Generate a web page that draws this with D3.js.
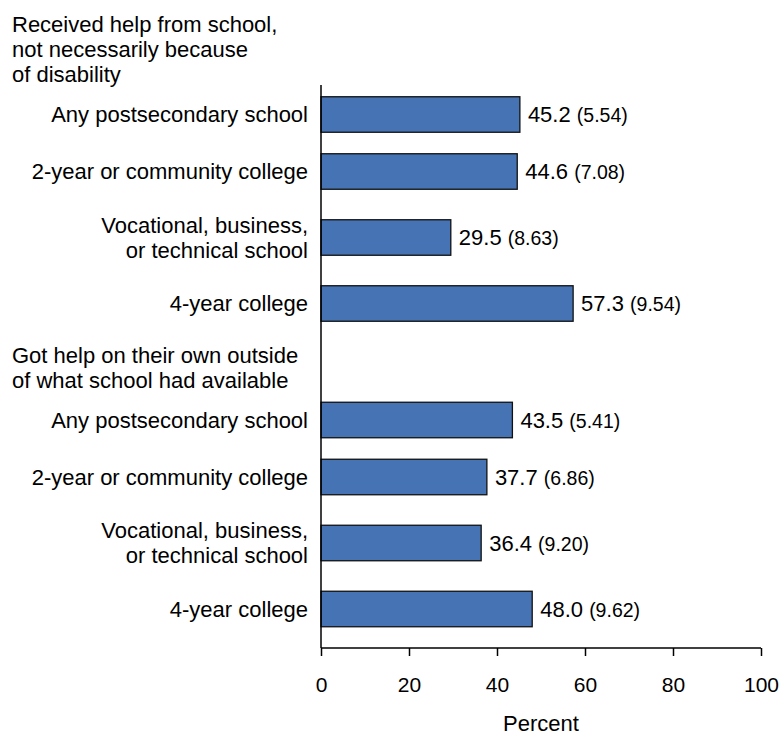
<!DOCTYPE html>
<html>
<head>
<meta charset="utf-8">
<script src="https://cdn.jsdelivr.net/npm/d3@7"></script>
<style>
  html, body { margin: 0; padding: 0; background: #fff; }
  svg text { font-family: "Liberation Sans", Arial, sans-serif; fill: #000; }
</style>
</head>
<body>
<svg id="chart" width="781" height="740"></svg>
<script>
// ---- data ----
const groupTitles = [
  "Received help from school,\nnot necessarily because\nof disability",
  "Got help on their own outside\nof what school had available"
];
const categories = [
  "Any postsecondary school",
  "2-year or community college",
  "Vocational, business,\nor technical school",
  "4-year college"
];
const schoolHelpValues = [45.2, 44.6, 29.5, 57.3];
const schoolHelpSE = ["5.54", "7.08", "8.63", "9.54"];
const ownHelpValues = [43.5, 37.7, 36.4, 48.0];
const ownHelpSE = ["5.41", "6.86", "9.20", "9.62"];
const xTicks = [0, 20, 40, 60, 80, 100];
const xLabel = "Percent";

// ---- layout ----
const svg = d3.select("#chart");
const left = 321, right = 761, axisY = 648, axisTop = 85;
const lineH = 25, rowSingle = 57, rowExtra = 18, barH = 35.5;
const labelFont = 22, seFont = 19.5, tickFont = 21;

const x = d3.scaleLinear().domain([0, 100]).range([left, right]);

const series = [
  { title: groupTitles[0], values: schoolHelpValues, se: schoolHelpSE },
  { title: groupTitles[1], values: ownHelpValues, se: ownHelpSE }
];

// compute row positions
const headers = [];
const rows = [];
let cursor = 32; // first header baseline
series.forEach((g, gi) => {
  const tl = g.title.split("\n");
  headers.push({ lines: tl, y: cursor });
  cursor += (tl.length - 1) * lineH + 32.5;
  let prevH = null;
  categories.forEach((c, ci) => {
    const nl = c.split("\n").length;
    const h = rowSingle + (nl - 1) * rowExtra;
    if (prevH !== null) cursor += (prevH + h) / 2;
    rows.push({ id: gi + "-" + ci, label: c.split("\n"), value: g.values[ci], se: g.se[ci], center: cursor });
    prevH = h;
  });
  cursor += 59;
});

const y = d3.scaleOrdinal().domain(rows.map(r => r.id)).range(rows.map(r => r.center));

// headers
headers.forEach(h => {
  const t = svg.append("text").attr("x", 12).attr("y", h.y).style("font-size", labelFont + "px");
  h.lines.forEach((l, i) => t.append("tspan").attr("x", 12).attr("dy", i === 0 ? 0 : lineH).text(l));
});

// category labels
rows.forEach(r => {
  const n = r.label.length;
  const t = svg.append("text")
    .attr("text-anchor", "end")
    .style("font-size", labelFont + "px");
  r.label.forEach((l, i) => {
    t.append("tspan").attr("x", left - 13)
      .attr("y", y(r.id) + 7.7 - (n - 1) * lineH / 2 + i * lineH)
      .text(l);
  });
});

// bars
svg.append("g").selectAll("rect").data(rows).join("rect")
  .attr("x", x(0))
  .attr("y", d => y(d.id) - barH / 2)
  .attr("width", d => x(d.value) - x(0))
  .attr("height", barH)
  .attr("fill", "#4573B4")
  .attr("stroke", "#111")
  .attr("stroke-width", 1.3);

// value labels
const vl = svg.append("g").selectAll("text").data(rows).join("text")
  .attr("x", d => x(d.value) + 8)
  .attr("y", d => y(d.id) + 7.7)
  .style("font-size", labelFont + "px");
vl.append("tspan").text(d => d.value.toFixed(1) + " ");
vl.append("tspan").style("font-size", seFont + "px").text(d => "(" + d.se + ")");

// axes
const xAxis = d3.axisBottom(x).tickValues(xTicks).tickSize(8).tickPadding(21).tickFormat(d3.format("d"));
const gx = svg.append("g").attr("transform", `translate(0,${axisY})`).call(xAxis);
gx.select(".domain").attr("d", `M${left},0H${right}`).attr("stroke", "#000").attr("stroke-width", 1.5);
gx.selectAll(".tick line").attr("stroke", "#000").attr("stroke-width", 1.5);
gx.selectAll(".tick text").style("font-size", tickFont + "px")
  .style("font-family", '"Liberation Sans", Arial, sans-serif').attr("fill", "#000");

svg.append("line").attr("x1", left).attr("x2", left).attr("y1", axisTop).attr("y2", axisY)
  .attr("stroke", "#000").attr("stroke-width", 1.5);

svg.append("text").attr("x", (left + right) / 2).attr("y", 731)
  .attr("text-anchor", "middle").style("font-size", "22px").text(xLabel);
</script>
</body>
</html>
